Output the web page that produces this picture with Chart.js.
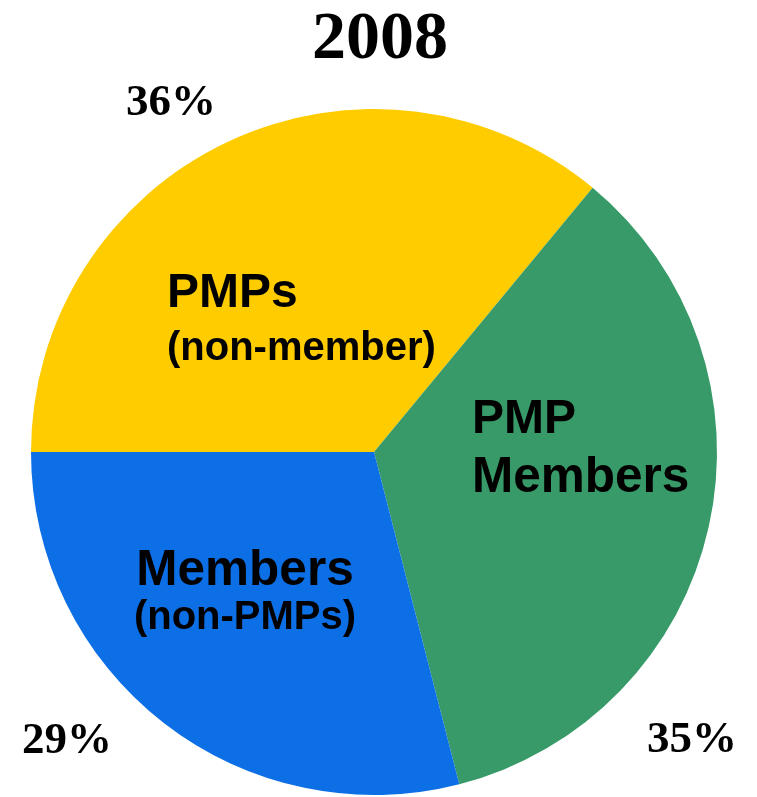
<!DOCTYPE html>
<html>
<head>
<meta charset="utf-8">
<script src="https://cdn.jsdelivr.net/npm/chart.js@4.4.0/dist/chart.umd.min.js"></script>
<style>
  html, body { margin: 0; padding: 0; background: #fff; }
  #wrap { width: 757px; height: 797px; }
</style>
</head>
<body>
<div id="wrap"><canvas id="pieChart" width="757" height="797"></canvas></div>
<script>
const title = "2008";
const categories = ["PMPs (non-member)", "PMP Members", "Members (non-PMPs)"];
const shares = [36, 35, 29];
const percentLabels = ["36%", "35%", "29%"];
const colors = ["#ffcc00", "#379a68", "#0c6fe6"];

/* text placed around / inside the pie */
const textPlugin = {
  id: "pieText",
  afterDraw(chart) {
    const ctx = chart.ctx;
    ctx.save();
    ctx.fillStyle = "#000";
    ctx.textBaseline = "alphabetic";

    // title
    ctx.textAlign = "center";
    ctx.font = "bold 68px 'Liberation Serif', serif";
    ctx.fillText(title, 380, 58);

    // percentages
    ctx.font = "bold 45px 'Liberation Serif', serif";
    ctx.fillText(percentLabels[0], 171, 115);
    ctx.fillText(percentLabels[1], 692, 752);
    ctx.fillText(percentLabels[2], 67, 753);

    // slice names
    ctx.textAlign = "left";
    ctx.font = "bold 48px 'Liberation Sans', Arial, sans-serif";
    ctx.fillText("PMPs", 167, 307);
    ctx.fillText("PMP", 472, 433);
    ctx.font = "bold 49.5px 'Liberation Sans', Arial, sans-serif";
    ctx.fillText("Members", 472, 492);
    ctx.font = "bold 40px 'Liberation Sans', Arial, sans-serif";
    ctx.fillText("(non-member)", 167, 360);

    ctx.textAlign = "center";
    ctx.font = "bold 49.5px 'Liberation Sans', Arial, sans-serif";
    ctx.fillText("Members", 245, 585);
    ctx.font = "bold 40px 'Liberation Sans', Arial, sans-serif";
    ctx.fillText("(non-PMPs)", 245, 629);
    ctx.restore();
  }
};

new Chart(document.getElementById("pieChart"), {
  type: "pie",
  data: {
    labels: categories,
    datasets: [{
      data: shares,
      backgroundColor: colors,
      borderWidth: 0
    }]
  },
  options: {
    responsive: false,
    animation: false,
    rotation: 270,
    layout: { padding: { left: 31, right: 40, top: 109, bottom: 2 } },
    plugins: {
      legend: { display: false },
      tooltip: { enabled: false },
      title: { display: false }
    }
  },
  plugins: [textPlugin]
});
</script>
</body>
</html>
